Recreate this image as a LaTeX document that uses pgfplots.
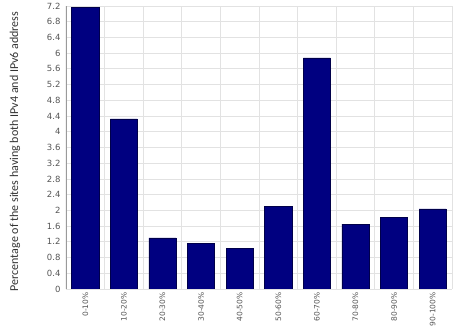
\documentclass[border=0pt]{standalone}
\usepackage{pgfplots}
\pgfplotsset{compat=1.18}
\usepackage{fontspec}
\setmainfont{DejaVu Sans}
\newfontfamily\labelfont{Carlito}
\definecolor{barblue}{HTML}{000080}
\definecolor{bardark}{HTML}{00004A}
\definecolor{gridgray}{HTML}{E2E2E2}
\definecolor{axgray}{HTML}{9A9A9A}
\definecolor{ticktext}{HTML}{555555}
\begin{document}
\begin{tikzpicture}
\path[use as bounding box] (-66pt,-42pt) rectangle (389pt,289pt);
\begin{axis}[
  at={(0,0)}, anchor=south west,
  scale only axis, width=386pt, height=283pt,
  xmin=-0.5, xmax=9.5, ymin=0, ymax=7.2,
  ytick={0,0.4,...,7.2},
  yticklabel style={/pgf/number format/fixed,/pgf/number format/precision=1, font=\fontsize{8.5}{9}\selectfont, text=ticktext, xshift=-2pt},
  /pgf/number format/assume math mode=true,
  xtick={0,...,9},
  xticklabels={0-10\%,10-20\%,20-30\%,30-40\%,40-50\%,50-60\%,60-70\%,70-80\%,80-90\%,90-100\%},
  xticklabel style={rotate=90, anchor=east, font=\fontsize{7.5}{8}\selectfont, text=ticktext},
  minor xtick={-0.5,0.5,...,9.5},
  xminorgrids=true, ymajorgrids=true,
  grid style={gridgray, line width=0.8pt},
  minor grid style={gridgray, line width=0.8pt},
  major tick length=0pt, minor tick length=0pt,
  axis line style={draw=none},
  axis x line*=bottom, axis y line*=left,
  ylabel={\labelfont Percentage of the sites having both IPv4 and IPv6 address},
  every axis y label/.style={at={(rel axis cs:0,0.5)}, xshift=-51pt, yshift=-4pt, rotate=90, anchor=center, font=\fontsize{12}{14}\selectfont, text=black!80},
]
\addplot[ybar, bar width=0.7, fill=barblue, draw=bardark, line width=0.6pt] coordinates {
 (0,7.17) (1,4.33) (2,1.30) (3,1.17) (4,1.04) (5,2.11) (6,5.88) (7,1.65) (8,1.83) (9,2.04)};
\draw[axgray, line width=1.6pt] (axis cs:-0.5,0) -- (axis cs:-0.5,7.2);
\draw[axgray, line width=0.9pt] (axis cs:-0.5,0) -- (axis cs:9.5,0);
\end{axis}
\end{tikzpicture}
\end{document}
